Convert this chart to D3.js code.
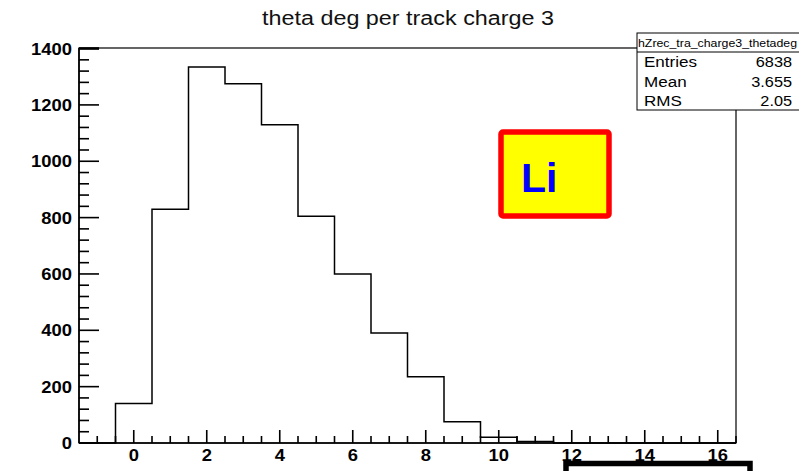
<!DOCTYPE html>
<html><head><meta charset="utf-8">
<script src="https://cdn.jsdelivr.net/npm/d3@7"></script>
<style>body{margin:0;background:#fff}svg{display:block}</style>
</head><body>
<svg id="c" width="799" height="471"></svg>
<script>
const title = "theta deg per track charge 3";
const binCenters = [-1,0,1,2,3,4,5,6,7,8,9,10,11,12,13,14,15,16];
const counts =     [0,140,830,1335,1275,1130,805,600,390,235,75,20,5,0,0,0,0,0];
const xTickLabels = [0,2,4,6,8,10,12,14,16];
const yTickLabels = [0,200,400,600,800,1000,1200,1400];
const statsName = "hZrec_tra_charge3_thetadeg";
const statsRows = [["Entries","6838"],["Mean","3.655"],["RMS","2.05"]];
const tagText = "Li";

const FONT = "Liberation Sans, Arial, Helvetica, sans-serif";
const svg = d3.select("#c");
const L=79, R=736, T=48, B=443;
const x = d3.scaleLinear().domain([-1.5,16.5]).range([L,R]);
const y = d3.scaleLinear().domain([0,1402]).range([B,T]);

// frame
svg.append("rect").attr("x",L).attr("y",T).attr("width",R-L).attr("height",B-T)
  .attr("fill","none").attr("stroke","#000").attr("stroke-width",1.2);

// histogram step path
let pts=[];
binCenters.forEach((c,i)=>{
  pts.push([x(c-0.5),y(counts[i])]);
  pts.push([x(c+0.5),y(counts[i])]);
});
pts.unshift([x(binCenters[0]-0.5),y(0)]);
pts.push([x(binCenters[binCenters.length-1]+0.5),y(0)]);
svg.append("path").attr("d",d3.line()(pts)).attr("fill","none")
  .attr("stroke","#000").attr("stroke-width",1.5);

// ticks drawn as thin filled rects from the scales
const xMinor = d3.range(-1,16.51,0.5).filter(v=>!xTickLabels.includes(v));
const yMinor = d3.range(0,1401,40).filter(v=>!yTickLabels.includes(v));
const tw = 1.6;
svg.selectAll("rect.xmj").data(xTickLabels).enter().append("rect").attr("class","xmj")
  .attr("x",d=>x(d)-tw/2).attr("y",B-13).attr("width",tw).attr("height",13).attr("fill","#000");
svg.selectAll("rect.xmn").data(xMinor).enter().append("rect").attr("class","xmn")
  .attr("x",d=>x(d)-tw/2).attr("y",B-7).attr("width",tw).attr("height",7).attr("fill","#000");
svg.selectAll("rect.ymj").data(yTickLabels).enter().append("rect").attr("class","ymj")
  .attr("x",L).attr("y",d=>y(d)-tw/2).attr("width",20).attr("height",tw).attr("fill","#000");
svg.selectAll("rect.ymn").data(yMinor).enter().append("rect").attr("class","ymn")
  .attr("x",L).attr("y",d=>y(d)-tw/2).attr("width",10).attr("height",tw).attr("fill","#000");

// tick labels
svg.selectAll("text.xl").data(xTickLabels).enter().append("text").attr("class","xl")
  .attr("transform",d=>`translate(${x(d)},${B+18}) scale(1.15,1)`)
  .attr("text-anchor","middle").attr("font-family",FONT).attr("font-weight","bold")
  .attr("font-size",16).attr("fill","#000").text(d=>d3.format("d")(d));
svg.selectAll("text.yl").data(yTickLabels).enter().append("text").attr("class","yl")
  .attr("transform",d=>`translate(72,${y(d)+6}) scale(1.15,1)`)
  .attr("text-anchor","end").attr("font-family",FONT).attr("font-weight","bold")
  .attr("font-size",16).attr("fill","#000").text(d=>d3.format("d")(d));

svg.append("line").attr("x1",L).attr("x2",L).attr("y1",T).attr("y2",B).attr("stroke","#000").attr("stroke-width",1.6);
svg.append("line").attr("x1",L).attr("x2",R).attr("y1",B).attr("y2",B).attr("stroke","#000").attr("stroke-width",1.6);
svg.append("line").attr("x1",L).attr("x2",L+20).attr("y1",T+0.5).attr("y2",T+0.5).attr("stroke","#000").attr("stroke-width",2.5);

// title
svg.append("text").attr("x",262).attr("y",25).attr("textLength",292).attr("lengthAdjust","spacingAndGlyphs")
  .attr("font-family",FONT).attr("font-size",20).attr("fill","#111").text(title);

// stats box
const sx=637, sy=33, sw=170, sh=77;
svg.append("rect").attr("x",sx).attr("y",sy).attr("width",sw).attr("height",sh)
  .attr("fill","#fff").attr("stroke","#000").attr("stroke-width",1);
svg.append("line").attr("x1",sx).attr("x2",sx+sw).attr("y1",52).attr("y2",52).attr("stroke","#000");
svg.append("text").attr("x",638).attr("y",47).attr("textLength",159).attr("lengthAdjust","spacingAndGlyphs")
  .attr("font-family",FONT).attr("font-size",11).attr("fill","#000").text(statsName);
statsRows.forEach((r,i)=>{
  const yy = 67 + i*19.5;
  svg.append("text").attr("transform",`translate(644,${yy}) scale(1.1,1)`).attr("font-family",FONT)
    .attr("font-size",15.5).attr("fill","#000").text(r[0]);
  svg.append("text").attr("transform",`translate(792,${yy}) scale(1.05,1)`).attr("text-anchor","end").attr("font-family",FONT)
    .attr("font-size",15.5).attr("fill","#000").text(r[1]);
});

// Li tag
svg.append("rect").attr("x",501).attr("y",132).attr("width",108).attr("height",84).attr("rx",2)
  .attr("fill","#ffff00").attr("stroke","#ff0000").attr("stroke-width",5.5);
svg.append("text").attr("x",521).attr("y",192).attr("font-family",FONT)
  .attr("font-weight","bold").attr("font-size",41).attr("fill","#0000ff").text(tagText);

// bottom right box
svg.append("rect").attr("x",566).attr("y",463.5).attr("width",184).attr("height",30)
  .attr("fill","#fff").attr("stroke","#000").attr("stroke-width",5.5);
</script>
</body></html>
